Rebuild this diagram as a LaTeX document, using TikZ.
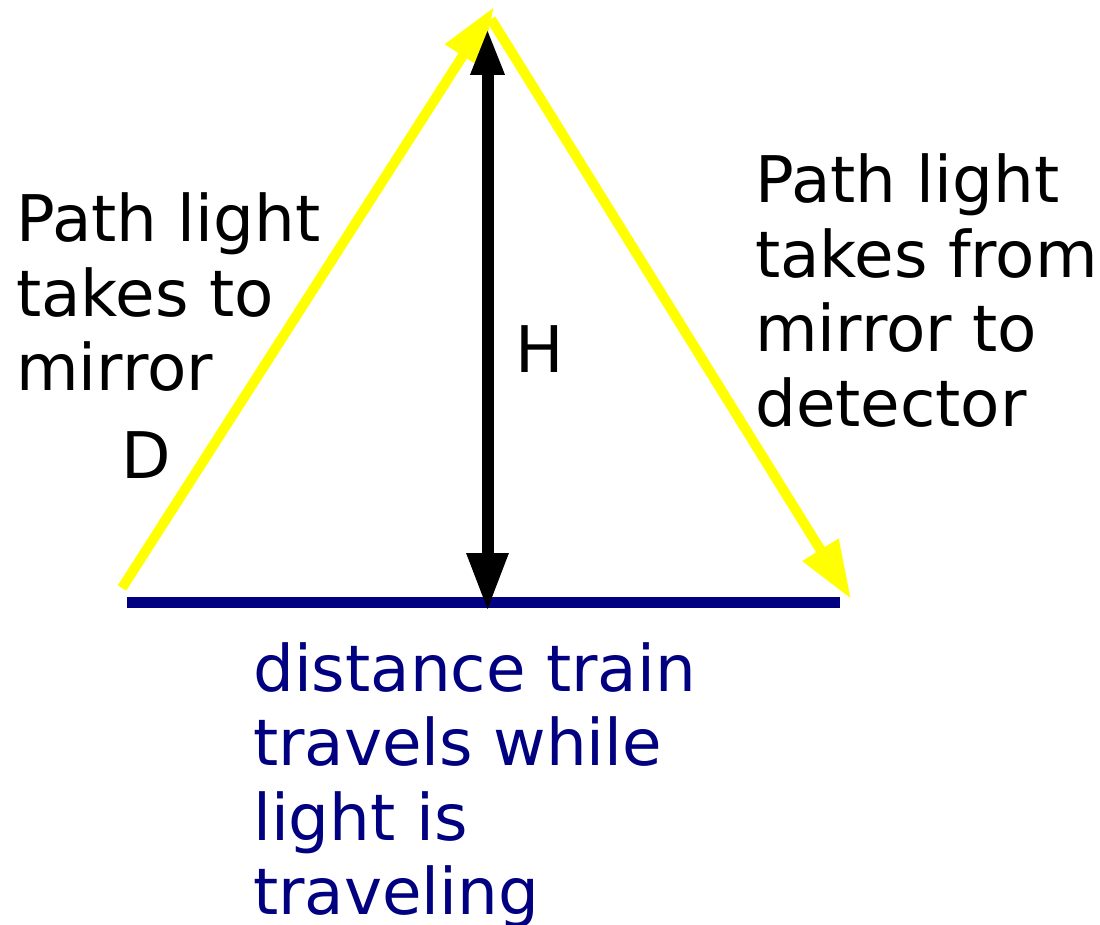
\documentclass[tikz,border=0pt]{standalone}
\usepackage{fontspec}
\setmainfont{DejaVu Sans}
\usetikzlibrary{arrows.meta}
\definecolor{navyc}{RGB}{0,0,128}
\definecolor{lightyel}{RGB}{255,255,0}
\begin{document}
\begin{tikzpicture}[x=1pt,y=-1pt,
  lbl/.style={inner sep=0pt, anchor=base west, font=\fontsize{64.3}{74.5}\selectfont},
  ray/.style={draw=lightyel, line width=10pt, line cap=butt, -{Triangle[length=58pt,width=40pt]}},
  height/.style={draw=black, line width=12pt, {Triangle[length=47pt,width=31pt]}-{Triangle[length=58pt,width=39pt]}},
  track/.style={draw=navyc, line width=11pt}]
\useasboundingbox (0,0) rectangle (1100,925);
\coordinate (A) at (122,588);
\coordinate (M) at (494,7);
\coordinate (Ms) at (491,19);
\coordinate (B) at (851,599);
\coordinate (Ht) at (487.5,28);
\coordinate (Hb) at (487.5,611);
\coordinate (L) at (127,602);
\coordinate (R) at (840,602);
\draw[track] (L) -- (R);
\draw[ray] (A) -- (M);
\draw[ray] (Ms) -- (B);
\draw[height] (Ht) -- (Hb);
\node[lbl] (lefttext) at (16,242) {\parbox[t]{400pt}{Path light\\takes to\\mirror}};
\node[lbl] (dlabel) at (121,478) {D};
\node[lbl] (hlabel) at (515,372) {H};
\node[lbl] (righttext) at (755,203) {\parbox[t]{400pt}{Path light\\takes from\\mirror to\\detector}};
\node[lbl, text=navyc] (bottomtext) at (253,691) {\parbox[t]{600pt}{distance train\\travels while\\light is\\traveling}};
\end{tikzpicture}
\end{document}
